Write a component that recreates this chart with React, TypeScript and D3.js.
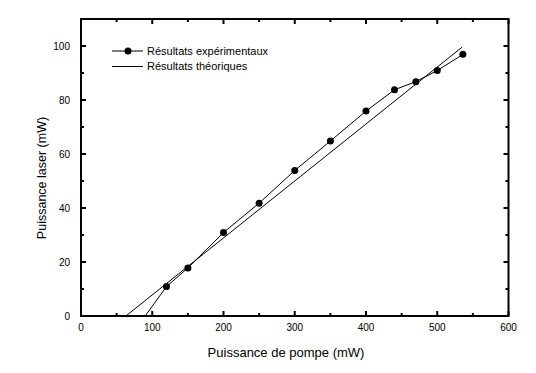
import React, { useRef, useEffect } from "react";
import * as d3 from "d3";

// Données
const pompe = [120, 150, 200, 250, 300, 350, 400, 440, 470, 500, 536];
const laser = [10.9, 17.8, 30.9, 41.8, 53.9, 64.8, 75.9, 83.8, 86.8, 90.9, 96.9];
const seuilExp = [90, 0]; // départ de la courbe expérimentale (sans symbole)
const theoX = [63, 535];
const theoY = [0, 99.6];
const xTicks = [0, 100, 200, 300, 400, 500, 600];
const yTicks = [0, 20, 40, 60, 80, 100];
const legendLabels = ["Résultats expérimentaux", "Résultats théoriques"];

const width = 536;
const height = 373;
const font = "'Liberation Sans', Arial, sans-serif";

const App: React.FC = () => {
  const svgRef = useRef<SVGSVGElement | null>(null);

  useEffect(() => {
    if (!svgRef.current) return;
    const svg = d3.select(svgRef.current);
    svg.selectAll("*").remove();

    const left = 81, right = 508.5, top = 19, bottom = 316;

    const x = d3.scaleLinear().domain([0, 600]).range([left, right]);
    const y = d3.scaleLinear().domain([0, 110]).range([bottom, top]);

    const g = svg.append("g");

    // ticks mineurs / majeurs sur les quatre côtés, vers l'intérieur
    const xMinor = d3.range(50, 600, 100);
    const yMinor = d3.range(10, 110, 20);
    const major = 5, minor = 3;

    xTicks.forEach((v) => {
      g.append("line").attr("x1", x(v)).attr("x2", x(v)).attr("y1", bottom).attr("y2", bottom - major);
      g.append("line").attr("x1", x(v)).attr("x2", x(v)).attr("y1", top).attr("y2", top + major);
    });
    xMinor.forEach((v) => {
      g.append("line").attr("x1", x(v)).attr("x2", x(v)).attr("y1", bottom).attr("y2", bottom - minor);
      g.append("line").attr("x1", x(v)).attr("x2", x(v)).attr("y1", top).attr("y2", top + minor);
    });
    yTicks.forEach((v) => {
      g.append("line").attr("x1", left).attr("x2", left + major).attr("y1", y(v)).attr("y2", y(v));
      g.append("line").attr("x1", right).attr("x2", right - major).attr("y1", y(v)).attr("y2", y(v));
    });
    yMinor.forEach((v) => {
      g.append("line").attr("x1", left).attr("x2", left + minor).attr("y1", y(v)).attr("y2", y(v));
      g.append("line").attr("x1", right).attr("x2", right - minor).attr("y1", y(v)).attr("y2", y(v));
    });
    g.selectAll("line").attr("stroke", "black").attr("stroke-width", 2);

    // cadre
    g.append("rect")
      .attr("x", left)
      .attr("y", top)
      .attr("width", right - left)
      .attr("height", bottom - top)
      .attr("fill", "none")
      .attr("stroke", "black")
      .attr("stroke-width", 2);

    // étiquettes
    xTicks.forEach((v) => {
      g.append("text")
        .attr("x", x(v))
        .attr("y", 331)
        .attr("text-anchor", "middle")
        .attr("font-family", font)
        .attr("font-size", "10px")
        .text(v);
    });
    yTicks.forEach((v) => {
      g.append("text")
        .attr("x", 70)
        .attr("y", y(v))
        .attr("dy", "0.35em")
        .attr("text-anchor", "end")
        .attr("font-family", font)
        .attr("font-size", "10px")
        .text(v);
    });

    g.append("text")
      .attr("x", 286)
      .attr("y", 357)
      .attr("text-anchor", "middle")
      .attr("font-family", font)
      .attr("font-size", "13px")
      .text("Puissance de pompe (mW)");

    g.append("text")
      .attr("transform", `translate(46,178) rotate(-90)`)
      .attr("text-anchor", "middle")
      .attr("font-family", font)
      .attr("font-size", "12.5px")
      .text("Puissance laser (mW)");

    // courbe théorique
    const line = d3
      .line<[number, number]>()
      .x((d) => x(d[0]))
      .y((d) => y(d[1]));

    g.append("path")
      .datum(theoX.map((v, i) => [v, theoY[i]] as [number, number]))
      .attr("fill", "none")
      .attr("stroke", "black")
      .attr("stroke-width", 1)
      .attr("d", line);

    // courbe expérimentale
    const exp: [number, number][] = [
      [seuilExp[0], seuilExp[1]],
      ...pompe.map((v, i) => [v, laser[i]] as [number, number]),
    ];
    g.append("path")
      .datum(exp)
      .attr("fill", "none")
      .attr("stroke", "black")
      .attr("stroke-width", 1)
      .attr("d", line);

    g.selectAll(".dot")
      .data(pompe)
      .enter()
      .append("circle")
      .attr("cx", (d) => x(d))
      .attr("cy", (_, i) => y(laser[i]))
      .attr("r", 3.5)
      .attr("fill", "black");

    // légende
    const legend = g.append("g").attr("transform", "translate(112,51)");
    legendLabels.forEach((lab, i) => {
      const ly = i * 15.5;
      legend.append("line")
        .attr("x1", 0).attr("x2", 31)
        .attr("y1", ly).attr("y2", ly)
        .attr("stroke", "black").attr("stroke-width", 1);
      if (i === 0) {
        legend.append("circle").attr("cx", 16).attr("cy", ly).attr("r", 3.5).attr("fill", "black");
      }
      legend.append("text")
        .attr("x", 35)
        .attr("y", ly)
        .attr("dy", "0.36em")
        .attr("font-family", font)
        .attr("font-size", "11px")
        .text(lab);
    });
  }, []);

  return (
    <svg
      ref={svgRef}
      width={width}
      height={height}
      style={{ position: "absolute", left: 0, top: 0, background: "white" }}
    ></svg>
  );
};

export default App;
